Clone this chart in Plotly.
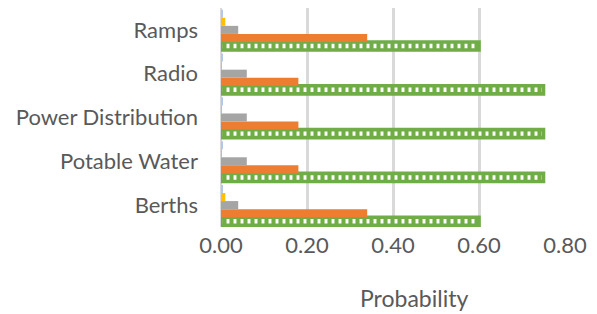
import plotly.graph_objects as go

categories = ["Berths", "Potable Water", "Power Distribution", "Radio", "Ramps"]
series_names = ["Series 5", "Series 4", "Series 3", "Series 2", "Series 1"]
# listed bottom-to-top within each category group
green_vals = [0.60, 0.75, 0.75, 0.75, 0.60]
orange_vals = [0.34, 0.18, 0.18, 0.18, 0.34]
gray_vals = [0.04, 0.06, 0.06, 0.06, 0.04]
yellow_vals = [0.01, 0.002, 0.002, 0.002, 0.01]
blue_vals = [0.003, 0.003, 0.003, 0.003, 0.003]
x_ticks = [0.0, 0.2, 0.4, 0.6, 0.8]
x_tick_text = ["0.00", "0.20", "0.40", "0.60", "0.80"]

FONT = "Lato"
TXT = "#595959"

fig = go.Figure()
fig.add_trace(go.Bar(
    y=categories, x=green_vals, orientation="h", name=series_names[0],
    marker=dict(color="#70AD47",
                line=dict(color="#70AD47", width=3.6),
                pattern=dict(shape="|", fgcolor="#70AD47", bgcolor="white",
                             size=7, solidity=0.58, fillmode="replace")),
))
fig.add_trace(go.Bar(y=categories, x=orange_vals, orientation="h", name=series_names[1],
                     marker=dict(color="#ED7D31", line=dict(width=0))))
fig.add_trace(go.Bar(y=categories, x=gray_vals, orientation="h", name=series_names[2],
                     marker=dict(color="#A5A5A5", line=dict(width=0))))
fig.add_trace(go.Bar(y=categories, x=yellow_vals, orientation="h", name=series_names[3],
                     marker=dict(color="#FFC000", line=dict(width=0))))
fig.add_trace(go.Bar(y=categories, x=blue_vals, orientation="h", name=series_names[4],
                     marker=dict(color="#B4C7E7", line=dict(width=0))))

# The page body adds an 8px offset; margins compensate for it.
fig.update_layout(
    width=597, height=314,
    margin=dict(l=213, r=40, t=0, b=95),
    paper_bgcolor="white", plot_bgcolor="white",
    barmode="group", bargap=0.08, bargroupgap=0,
    showlegend=False,
    font=dict(family=FONT, size=22, color=TXT),
    xaxis=dict(range=[0, 0.8], tickvals=x_ticks, ticktext=x_tick_text,
               showgrid=True, gridcolor="#D9D9D9", gridwidth=2.5,
               zeroline=True, zerolinecolor="#D9D9D9", zerolinewidth=2,
               showline=False, ticks="", ticklabelstandoff=3,
               tickfont=dict(family=FONT, size=22, color=TXT)),
    yaxis=dict(showgrid=False, zeroline=False, showline=False, ticks="",
               ticklabelstandoff=22,
               tickfont=dict(family=FONT, size=22, color=TXT)),
    annotations=[dict(text="Probability", xref="paper", yref="paper",
                      x=0.561, y=0, yshift=-71, xanchor="center", yanchor="middle",
                      showarrow=False, font=dict(family=FONT, size=23, color=TXT))],
)

fig.write_html("out.html")
